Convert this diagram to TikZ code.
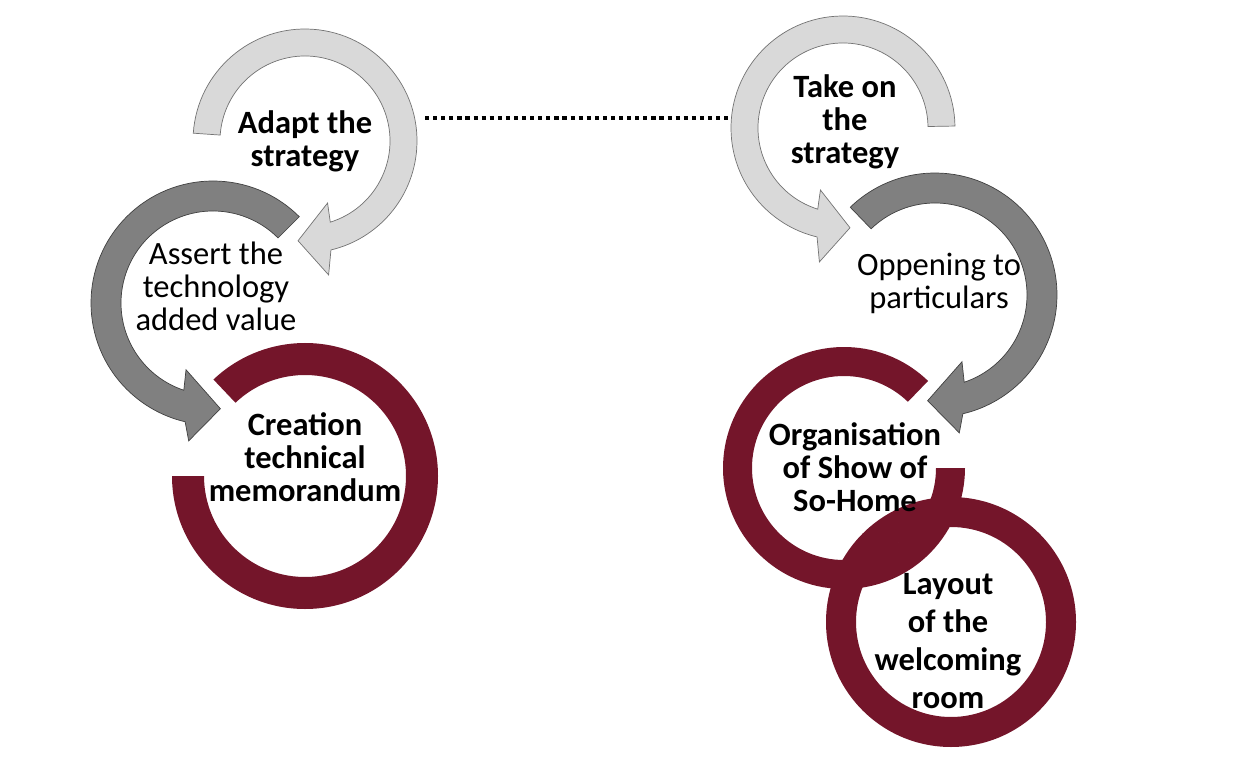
\documentclass[tikz,border=0pt]{standalone}
\usepackage{fontspec}
\setmainfont{Carlito}
\usepackage{tikz}
\usetikzlibrary{calc}
\definecolor{ringred}{RGB}{116,21,42}
\tikzset{
  ringlight/.style={fill=black!15, draw=black!55, line width=0.4pt},
  ringdark/.style={fill=black!50, draw=black!75, line width=0.4pt},
  ringmaroon/.style={fill=ringred},
  steptext/.style={font=\fontsize{18.5pt}{18.8pt}\selectfont, align=center, inner sep=0pt},
  steptextbold/.style={steptext, font=\fontsize{18.5pt}{18.8pt}\selectfont\bfseries},
  linkdots/.style={line width=2pt, dash pattern=on 2.4pt off 2.2pt}
}

\begin{document}
\begin{tikzpicture}
  \useasboundingbox (0,0) rectangle (24.88,15.52);
  % ring centres
  \coordinate (adapt) at (6.10,12.70);
  \coordinate (assert) at (4.26,9.46);
  \coordinate (creation) at (6.10,6.00);
  \coordinate (takeon) at (16.86,12.96);
  \coordinate (oppening) at (18.70,9.62);
  \coordinate (organisation) at (16.88,6.16);
  \coordinate (layout) at (19.02,3.08);
  \coordinate (dotL) at (8.50,13.16);
  \coordinate (dotR) at (14.60,13.16);

  % left chain
  \filldraw[ringlight] ($(adapt)+(176:2.24)$) arc[start angle=176, end angle=-76.6, radius=2.24]
    -- ($(adapt)+(-80:2.72)$) -- ($(adapt)+(-94:2.00)$) -- ($(adapt)+(-70:1.32)$)
    -- ($(adapt)+(-72.7:1.70)$) arc[start angle=-72.7, end angle=176, radius=1.70] -- cycle;
  \node[steptextbold] (adapttxt) at (6.10,12.70) {Adapt the\\strategy};
  \filldraw[ringdark] ($(assert)+(45:2.44)$) arc[start angle=45, end angle=256.8, radius=2.44]
    -- ($(assert)+(260:2.80)$) -- ($(assert)+(274:2.12)$) -- ($(assert)+(248:1.44)$)
    -- ($(assert)+(251.5:1.84)$) arc[start angle=251.5, end angle=45, radius=1.84] -- cycle;
  \node[steptext] (asserttxt) at (4.32,9.80) {Assert the\\technology\\added value};
  \fill[ringmaroon] ($(creation)+(180:2.66)$) arc[start angle=180, end angle=493.5, radius=2.66]
    -- ($(creation)+(133.5:2.02)$) arc[start angle=493.5, end angle=180, radius=2.02] -- cycle;
  \node[steptextbold] (creationtxt) at (6.10,6.38) {Creation\\technical\\memorandum};

  % right chain
  \filldraw[ringlight] ($(takeon)+(1:2.24)$) arc[start angle=1, end angle=256.6, radius=2.24]
    -- ($(takeon)+(260:2.72)$) -- ($(takeon)+(274:2.00)$) -- ($(takeon)+(250:1.32)$)
    -- ($(takeon)+(252.7:1.70)$) arc[start angle=252.7, end angle=1, radius=1.70] -- cycle;
  \node[steptextbold] (takeontxt) at (16.90,13.09) {Take on\\the\\strategy};
  \filldraw[ringdark] ($(oppening)+(134:2.44)$) arc[start angle=134, end angle=-76.8, radius=2.44]
    -- ($(oppening)+(-80:2.80)$) -- ($(oppening)+(-94:2.12)$) -- ($(oppening)+(-68:1.44)$)
    -- ($(oppening)+(-71.5:1.84)$) arc[start angle=-71.5, end angle=134, radius=1.84] -- cycle;
  \node[steptext] (oppeningtxt) at (18.78,9.85) {Oppening to\\particulars};
  \fill[ringmaroon, even odd rule] (layout) circle (2.50) (layout) circle (1.90);
  \fill[ringmaroon] ($(organisation)+(46:2.42)$) arc[start angle=46, end angle=360, radius=2.42]
    -- ($(organisation)+(0:1.84)$) arc[start angle=360, end angle=46, radius=1.84] -- cycle;
  \node[steptextbold] (organisationtxt) at (17.10,6.17) {Organisation\\of Show of\\So-Home};
  \node[steptextbold, font=\fontsize{18.5pt}{21.6pt}\selectfont\bfseries] (layouttxt) at (18.96,2.70) {Layout\\of the\\welcoming\\room};

  % link between the two chains
  \draw[linkdots] (dotL) -- (dotR);
\end{tikzpicture}
\end{document}
